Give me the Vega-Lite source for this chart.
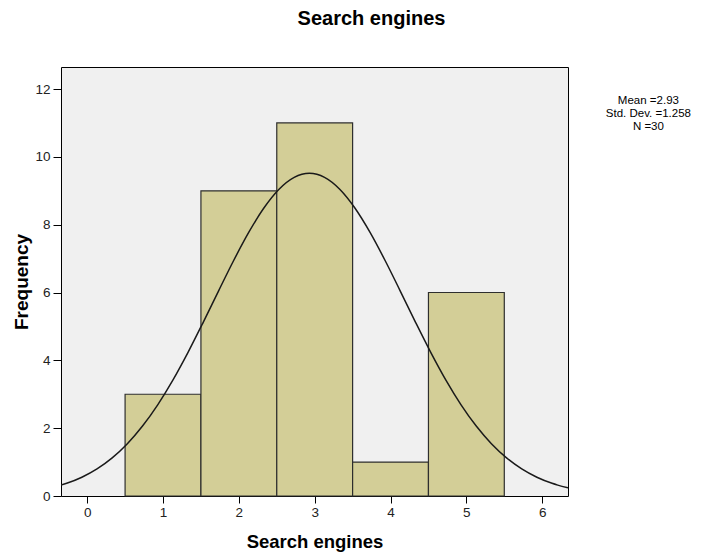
{
  "$schema": "https://vega.github.io/schema/vega-lite/v6.json",
  "autosize": "none",
  "width": 507,
  "height": 429,
  "padding": {"left": 61, "top": 67, "right": 139, "bottom": 59},
  "background": "white",
  "config": {
    "view": {"fill": "#F0F0F0", "stroke": "#000000", "strokeWidth": 1},
    "font": "Liberation Sans"
  },
  "title": {
    "text": "Search engines",
    "anchor": "middle",
    "dx": 57,
    "offset": 38,
    "font": "Liberation Sans",
    "fontSize": 20,
    "fontWeight": "bold",
    "color": "#000000"
  },
  "datasets": {
    "bars": [
      {"lo": 0.5, "hi": 1.5, "count": 3},
      {"lo": 1.5, "hi": 2.5, "count": 9},
      {"lo": 2.5, "hi": 3.5, "count": 11},
      {"lo": 3.5, "hi": 4.5, "count": 1},
      {"lo": 4.5, "hi": 5.5, "count": 6}
    ],
    "curve": [
      {"x": -0.345, "y": 0.321},
      {"x": -0.27, "y": 0.374},
      {"x": -0.07, "y": 0.554},
      {"x": 0.13, "y": 0.799},
      {"x": 0.33, "y": 1.124},
      {"x": 0.53, "y": 1.542},
      {"x": 0.73, "y": 2.062},
      {"x": 0.93, "y": 2.689},
      {"x": 1.13, "y": 3.418},
      {"x": 1.33, "y": 4.237},
      {"x": 1.53, "y": 5.122},
      {"x": 1.73, "y": 6.036},
      {"x": 1.93, "y": 6.937},
      {"x": 2.13, "y": 7.772},
      {"x": 2.33, "y": 8.491},
      {"x": 2.53, "y": 9.045},
      {"x": 2.73, "y": 9.394},
      {"x": 2.93, "y": 9.514},
      {"x": 3.13, "y": 9.394},
      {"x": 3.33, "y": 9.045},
      {"x": 3.53, "y": 8.491},
      {"x": 3.73, "y": 7.772},
      {"x": 3.93, "y": 6.937},
      {"x": 4.13, "y": 6.036},
      {"x": 4.33, "y": 5.122},
      {"x": 4.53, "y": 4.237},
      {"x": 4.73, "y": 3.418},
      {"x": 4.93, "y": 2.689},
      {"x": 5.13, "y": 2.062},
      {"x": 5.33, "y": 1.542},
      {"x": 5.53, "y": 1.124},
      {"x": 5.73, "y": 0.799},
      {"x": 5.93, "y": 0.554},
      {"x": 6.13, "y": 0.374},
      {"x": 6.205, "y": 0.321},
      {"x": 6.34, "y": 0.241}
    ],
    "stats": [
      {"x": 7.4, "y": 11.66, "label": "Mean =2.93"},
      {"x": 7.4, "y": 11.27, "label": "Std. Dev. =1.258"},
      {"x": 7.4, "y": 10.88, "label": "N =30"}
    ]
  },
  "layer": [
    {
      "data": {"name": "bars"},
      "mark": {"type": "rect", "fill": "#D3CE97", "stroke": "#2E2E2E", "strokeWidth": 1.2},
      "encoding": {
        "x": {
          "field": "lo", "type": "quantitative",
          "scale": {"domain": [-0.345, 6.34], "nice": false, "zero": false},
          "axis": {
            "values": [0, 1, 2, 3, 4, 5, 6],
            "format": "d",
            "title": "Search engines",
            "domain": false, "grid": false,
            "tickColor": "#000000", "tickSize": 7, "tickWidth": 1,
            "labelFont": "Liberation Sans", "labelFontSize": 13.5, "labelColor": "#222222", "labelPadding": 2,
            "titleFont": "Liberation Sans", "titleFontSize": 18.5, "titleFontWeight": "bold", "titleColor": "#000000",
            "titlePadding": 14
          }
        },
        "x2": {"field": "hi"},
        "y": {
          "field": "count", "type": "quantitative",
          "scale": {"domain": [0, 12.65], "nice": false},
          "axis": {
            "values": [0, 2, 4, 6, 8, 10, 12],
            "format": "d",
            "title": "Frequency",
            "domain": false, "grid": false,
            "tickColor": "#000000", "tickSize": 8, "tickWidth": 1,
            "labelFont": "Liberation Sans", "labelFontSize": 13.5, "labelColor": "#222222", "labelPadding": 3,
            "titleFont": "Liberation Sans", "titleFontSize": 19, "titleFontWeight": "bold", "titleColor": "#000000",
            "titlePadding": 3
          }
        },
        "y2": {"datum": 0}
      }
    },
    {
      "data": {"name": "curve"},
      "mark": {"type": "line", "color": "#1A1A1A", "strokeWidth": 1.5, "interpolate": "monotone", "clip": true},
      "encoding": {
        "x": {"field": "x", "type": "quantitative"},
        "y": {"field": "y", "type": "quantitative"}
      }
    },
    {
      "data": {"name": "stats"},
      "mark": {"type": "text", "font": "Liberation Sans", "fontSize": 11.5, "color": "#000000", "align": "center", "baseline": "middle", "clip": false},
      "encoding": {
        "x": {"field": "x", "type": "quantitative"},
        "y": {"field": "y", "type": "quantitative"},
        "text": {"field": "label"}
      }
    }
  ]
}
